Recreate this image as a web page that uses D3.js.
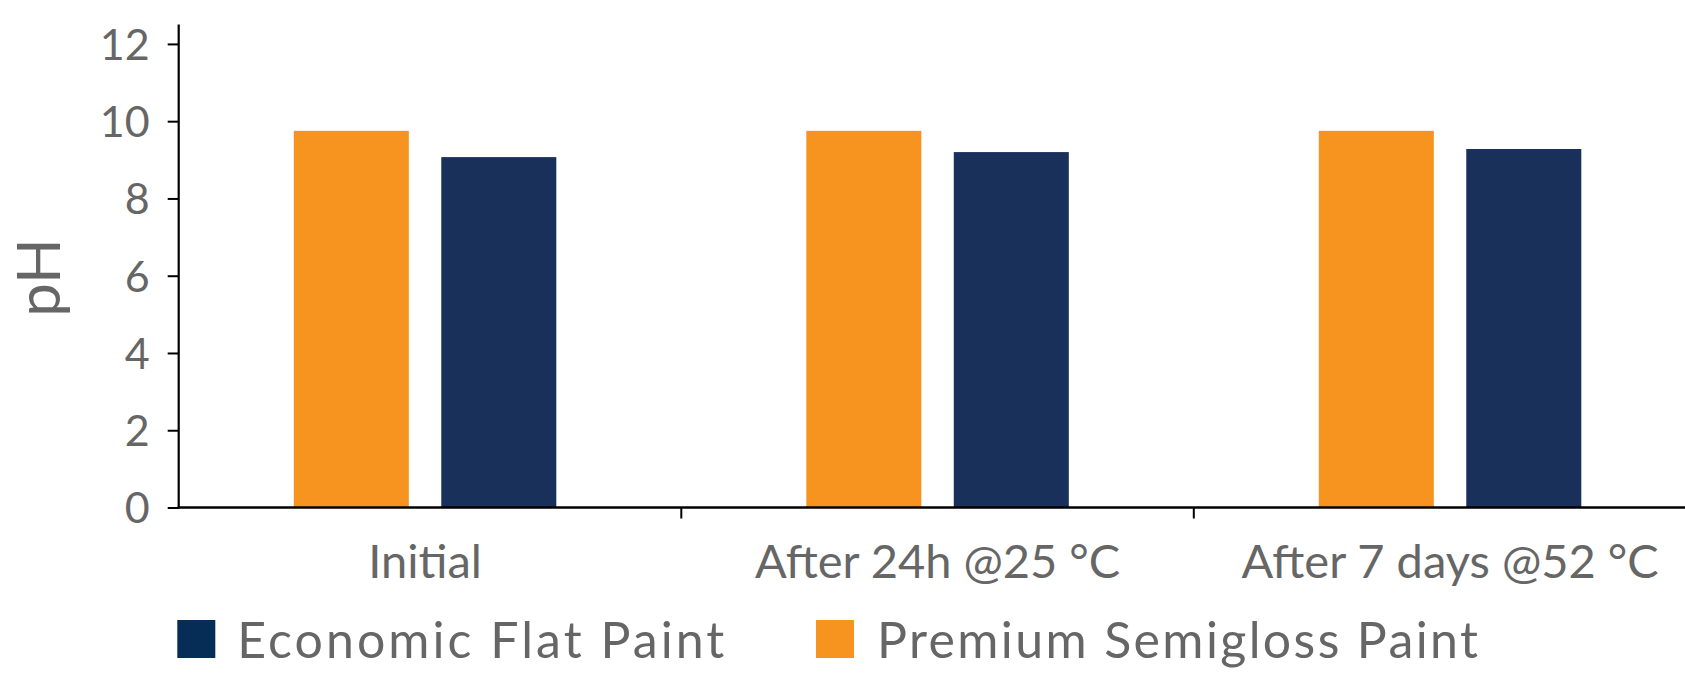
<!DOCTYPE html>
<html>
<head>
<meta charset="utf-8">
<script src="https://cdn.jsdelivr.net/npm/d3@7"></script>
<style>
  html, body { margin: 0; padding: 0; background: #ffffff; }
  svg { display: block; }
  text { font-family: "Lato", "Noto Sans", sans-serif; fill: #666666; }
</style>
</head>
<body>
<svg id="chart" width="1685" height="673"></svg>
<script>
// ---- data ----
const categories = ["Initial", "After 24h @25 °C", "After 7 days @52 °C"];
const seriesNames = ["Premium Semigloss Paint", "Economic Flat Paint"];
const premiumValues = [9.75, 9.75, 9.75];
const economicValues = [9.07, 9.20, 9.28];
const yTickValues = [0, 2, 4, 6, 8, 10, 12];
const legendOrder = ["Economic Flat Paint", "Premium Semigloss Paint"];

// ---- styles ----
const barColors = { "Premium Semigloss Paint": "#f6941f", "Economic Flat Paint": "#19305a" };
const legendColors = { "Premium Semigloss Paint": "#f6941f", "Economic Flat Paint": "#062d56" };

const svg = d3.select("#chart");
const W = 1685, H = 673;

const axisX = 178.7, baseY = 507.5;

const y = d3.scaleLinear().domain([0, 12.5]).range([baseY, 24.6]);
const x0 = d3.scaleBand().domain(categories).range([168.8, 1706.3]).paddingInner(0).paddingOuter(0);
const groupPad = 125;
const x1 = d3.scaleBand().domain(seriesNames).range([groupPad, x0.bandwidth() - groupPad]).paddingInner(0.22).paddingOuter(0);

const rows = categories.map((c, i) => ({
  cat: c,
  vals: [
    { s: seriesNames[0], v: premiumValues[i] },
    { s: seriesNames[1], v: economicValues[i] }
  ]
}));

// bars
const g = svg.append("g");
g.selectAll("g.grp").data(rows).join("g")
  .attr("class", "grp")
  .attr("transform", d => `translate(${x0(d.cat)},0)`)
  .selectAll("rect").data(d => d.vals).join("rect")
  .attr("x", d => x1(d.s))
  .attr("width", x1.bandwidth())
  .attr("y", d => y(d.v))
  .attr("height", d => y(0) - y(d.v))
  .attr("fill", d => barColors[d.s]);

// y axis
const yAxis = svg.append("g")
  .attr("transform", `translate(${axisX},0)`)
  .call(d3.axisLeft(y).tickValues(yTickValues).tickSize(11).tickPadding(18).tickFormat(d3.format("d")));
yAxis.select(".domain").remove();
yAxis.selectAll(".tick line").attr("stroke", "#000").attr("stroke-width", 2);
yAxis.selectAll(".tick text")
  .style("font-size", "43px").attr("fill", "#666666").attr("dy", "0.36em");
yAxis.append("line")
  .attr("x1", 0).attr("x2", 0)
  .attr("y1", y(12.5)).attr("y2", y(0) + 1)
  .attr("stroke", "#000").attr("stroke-width", 2.2);

// x axis line
svg.append("line")
  .attr("x1", axisX - 1).attr("x2", W)
  .attr("y1", baseY).attr("y2", baseY)
  .attr("stroke", "#000").attr("stroke-width", 2.4);

// category separator ticks
svg.append("g").selectAll("line")
  .data(categories.slice(1))
  .join("line")
  .attr("x1", d => x0(d)).attr("x2", d => x0(d))
  .attr("y1", baseY).attr("y2", baseY + 11)
  .attr("stroke", "#000").attr("stroke-width", 2);

// category labels
const xAxis = svg.append("g")
  .attr("transform", `translate(0,${baseY})`)
  .call(d3.axisBottom(x0).tickSize(0).tickPadding(0));
xAxis.select(".domain").remove();
xAxis.selectAll(".tick text")
  .attr("y", 70).attr("dy", 0)
  .style("font-size", "47px").attr("fill", "#666666");

// y title
svg.append("text")
  .attr("transform", `translate(60,277.5) rotate(-90)`)
  .attr("text-anchor", "middle")
  .style("font-size", "60px")
  .text("pH");

// legend
const legendX = [177.3, 816];
const legendTextLen = [487, 601];
const leg = svg.append("g").selectAll("g").data(legendOrder).join("g")
  .attr("transform", (d, i) => `translate(${legendX[i]},620)`);
leg.append("rect").attr("width", 38).attr("height", 38).attr("fill", d => legendColors[d]);
leg.append("text").attr("x", (d, i) => i === 0 ? 60 : 61).attr("y", 37.5)
  .attr("textLength", (d, i) => legendTextLen[i])
  .attr("lengthAdjust", "spacing")
  .style("font-size", "50px").text(d => d);
</script>
</body>
</html>
